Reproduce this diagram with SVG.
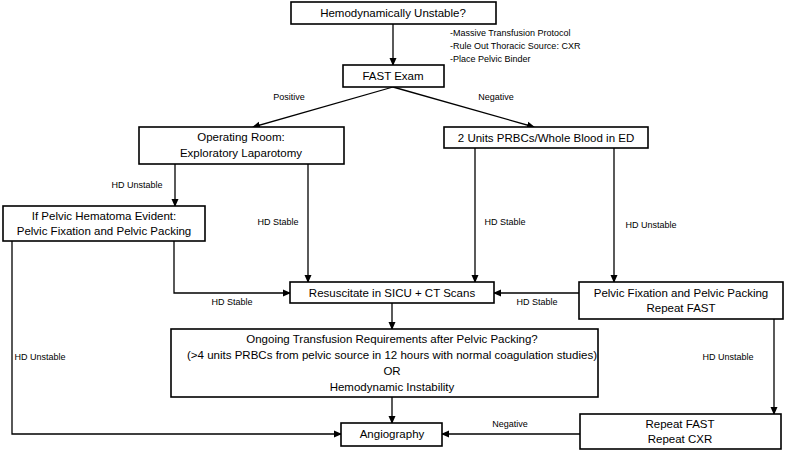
<svg xmlns="http://www.w3.org/2000/svg" width="787" height="452" viewBox="0 0 787 452">
<defs>
<marker id="ah" markerWidth="8" markerHeight="8" refX="7" refY="4" orient="auto" markerUnits="userSpaceOnUse"><path d="M0,0.5 L8,4 L0,7.5 Z" fill="#000"/></marker>
<style>
.box{fill:#fff;stroke:#000;stroke-width:1.6}
.t{font-family:"Liberation Sans",Arial,sans-serif;font-size:11.5px;text-anchor:middle;fill:#000}
.l{font-family:"Liberation Sans",Arial,sans-serif;font-size:9px;text-anchor:middle;fill:#000}
.n{font-family:"Liberation Sans",Arial,sans-serif;font-size:9px;fill:#000}
.c{fill:none;stroke:#000;stroke-width:1.3;marker-end:url(#ah)}
</style>
</defs>
<rect width="787" height="452" fill="#fff"/>
<g id="connectors">
<path class="c" d="M393,24 V65"/>
<path class="c" d="M393,87 L253,127"/>
<path class="c" d="M393,87 L534,127"/>
<path class="c" d="M175,164 V206"/>
<path class="c" d="M308,164 V282"/>
<path class="c" d="M475,148 V282"/>
<path class="c" d="M614,148 V282"/>
<path class="c" d="M174,241 V293 H290"/>
<path class="c" d="M579,293 H494"/>
<path class="c" d="M392,303 V329"/>
<path class="c" d="M392,397 V423"/>
<path class="c" d="M12,241 V434 H341"/>
<path class="c" d="M774,319 V414"/>
<path class="c" d="M580,434 H442"/>
</g>
<g id="labels">
<text class="n" x="450" y="36">-Massive Transfusion Protocol</text>
<text class="n" x="450" y="49">-Rule Out Thoracic Source: CXR</text>
<text class="n" x="450" y="62">-Place Pelvic Binder</text>
<text class="l" x="289" y="100">Positive</text>
<text class="l" x="496" y="100">Negative</text>
<text class="l" x="137" y="188">HD Unstable</text>
<text class="l" x="278" y="225">HD Stable</text>
<text class="l" x="505" y="225">HD Stable</text>
<text class="l" x="651" y="228">HD Unstable</text>
<text class="l" x="232" y="305">HD Stable</text>
<text class="l" x="537" y="305">HD Stable</text>
<text class="l" x="40" y="360">HD Unstable</text>
<text class="l" x="728" y="360">HD Unstable</text>
<text class="l" x="510" y="427">Negative</text>
</g>
<g id="n1"><rect class="box" x="291" y="2" width="205" height="22"/><text class="t" x="393" y="17">Hemodynamically Unstable?</text></g>
<g id="n2"><rect class="box" x="343" y="65" width="101" height="22"/><text class="t" x="393" y="80">FAST Exam</text></g>
<g id="n3"><rect class="box" x="139" y="127" width="205" height="37"/><text class="t" x="241" y="141">Operating Room:</text><text class="t" x="241" y="157">Exploratory Laparotomy</text></g>
<g id="n4"><rect class="box" x="444" y="127" width="204" height="21"/><text class="t" x="546" y="142">2 Units PRBCs/Whole Blood in ED</text></g>
<g id="n5"><rect class="box" x="3" y="206" width="202" height="35"/><text class="t" x="104" y="220">If Pelvic Hematoma Evident:</text><text class="t" x="104" y="235">Pelvic Fixation and Pelvic Packing</text></g>
<g id="n6"><rect class="box" x="290" y="282" width="204" height="21"/><text class="t" x="392" y="297">Resuscitate in SICU + CT Scans</text></g>
<g id="n7"><rect class="box" x="579" y="282" width="204" height="37"/><text class="t" x="681" y="297">Pelvic Fixation and Pelvic Packing</text><text class="t" x="681" y="312">Repeat FAST</text></g>
<g id="n8"><rect class="box" x="171" y="329" width="427" height="68"/><text class="t" x="392" y="343">Ongoing Transfusion Requirements after Pelvic Packing?</text><text class="t" x="392" y="359" textLength="410" lengthAdjust="spacingAndGlyphs">(&gt;4 units PRBCs from pelvic source in 12 hours with normal coagulation studies)</text><text class="t" x="392" y="375">OR</text><text class="t" x="392" y="391">Hemodynamic Instability</text></g>
<g id="n9"><rect class="box" x="341" y="423" width="101" height="23"/><text class="t" x="392" y="438">Angiography</text></g>
<g id="n10"><rect class="box" x="580" y="414" width="201" height="35"/><text class="t" x="680" y="428">Repeat FAST</text><text class="t" x="680" y="443">Repeat CXR</text></g>
</svg>
